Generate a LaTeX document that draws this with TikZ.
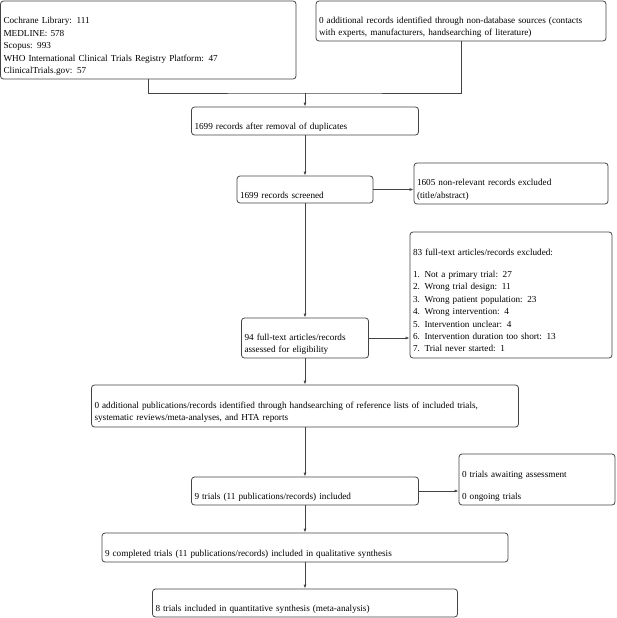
\documentclass[tikz,border=0pt]{standalone}
\usepackage{fontspec}
\setmainfont{Liberation Serif}
\usepackage{tikz}
\usetikzlibrary{arrows.meta, positioning}
\definecolor{boxline}{HTML}{444444}
\tikzset{
  recbox/.style={rectangle, rounded corners=3pt, draw=boxline, line width=0.8pt,
                 inner xsep=3pt, inner ysep=0pt, align=left,
                 font=\fontsize{9.2}{12.4}\selectfont},
  recline/.style={line width=0.8pt, boxline},
  recarrow/.style={-{Latex[length=4pt, width=3pt]}, line width=0.8pt, boxline},
}

\begin{document}
\begin{tikzpicture}[x=1pt, y=-1pt]
  \useasboundingbox (0,0) rectangle (617,618);
  \node[recbox, text width=289.5pt, minimum height=78pt] (dbs) at (148.25, 40)
    {\strut\\ Cochrane Library: 111\\ MEDLINE: 578\\ Scopus: 993\\
     WHO International Clinical Trials Registry Platform: 47\\ ClinicalTrials.gov: 57\strut};
  \node[recbox, text width=284pt, minimum height=40pt] (other) at (461, 21)
    {\strut\\ 0 additional records identified through non-database sources (contacts\\
     with experts, manufacturers, handsearching of literature)\strut};
  \coordinate (merge) at (305, 93);
  \node[recbox, text width=221pt, minimum height=28pt] (dedup) at (305, 121)
    {\strut\\ 1699 records after removal of duplicates\strut};
  \node[recbox, text width=130pt, minimum height=27pt] (screen) at (305, 189.5)
    {\strut\\ 1699 records screened\strut};
  \node[recbox, text width=188pt, minimum height=41pt] (excl) at (511, 183.5)
    {\strut\\ 1605 non-relevant records excluded\\ (title/abstract)\strut};
  \node[recbox, text width=121pt, minimum height=40pt] (fulltext) at (305, 338)
    {\strut\\ 94 full-text articles/records\\ assessed for eligibility\strut};
  \node[recbox, text width=196pt, minimum height=126pt] (ftexcl) at (511, 295)
    {\strut\\ 83 full-text articles/records excluded:\\[9.6pt]
     1. Not a primary trial: 27\\ 2. Wrong trial design: 11\\
     3. Wrong patient population: 23\\ 4. Wrong intervention: 4\\
     5. Intervention unclear: 4\\ 6. Intervention duration too short: 13\\
     7. Trial never started: 1\strut};
  \node[recbox, text width=421pt, minimum height=42pt] (handsearch) at (305, 406)
    {\strut\\ 0 additional publications/records identified through handsearching of reference lists of included trials,\\
     systematic reviews/meta-analyses, and HTA reports\strut};
  \node[recbox, text width=221pt, minimum height=28pt] (incl) at (305, 491)
    {\strut\\ 9 trials (11 publications/records) included\strut};
  \node[recbox, text width=150pt, minimum height=51pt] (pending) at (537, 479.5)
    {\strut\\ 0 trials awaiting assessment\\[9.6pt] 0 ongoing trials\strut};
  \node[recbox, text width=400pt, minimum height=29pt] (qual) at (305, 547.5)
    {\strut\\ 9 completed trials (11 publications/records) included in qualitative synthesis\strut};
  \node[recbox, text width=299pt, minimum height=28pt] (quant) at (305, 603)
    {\strut\\ 8 trials included in quantitative synthesis (meta-analysis)\strut};
  \draw[recline] (dbs.south) |- (merge) -| (other.south);
  \draw[recarrow] (merge) -- (dedup.north);
  \draw[recarrow] (dedup.south) -- (screen.north);
  \draw[recarrow] (screen.east) -- (screen.east -| excl.west);
  \draw[recarrow] (screen.south) -- (fulltext.north);
  \draw[recarrow] (fulltext.east) -- (fulltext.east -| ftexcl.west);
  \draw[recarrow] (fulltext.south) -- (handsearch.north);
  \draw[recarrow] (handsearch.south) -- (incl.north);
  \draw[recarrow] (incl.east) -- (incl.east -| pending.west);
  \draw[recarrow] (incl.south) -- (qual.north);
  \draw[recarrow] (qual.south) -- (quant.north);
\end{tikzpicture}
\end{document}
